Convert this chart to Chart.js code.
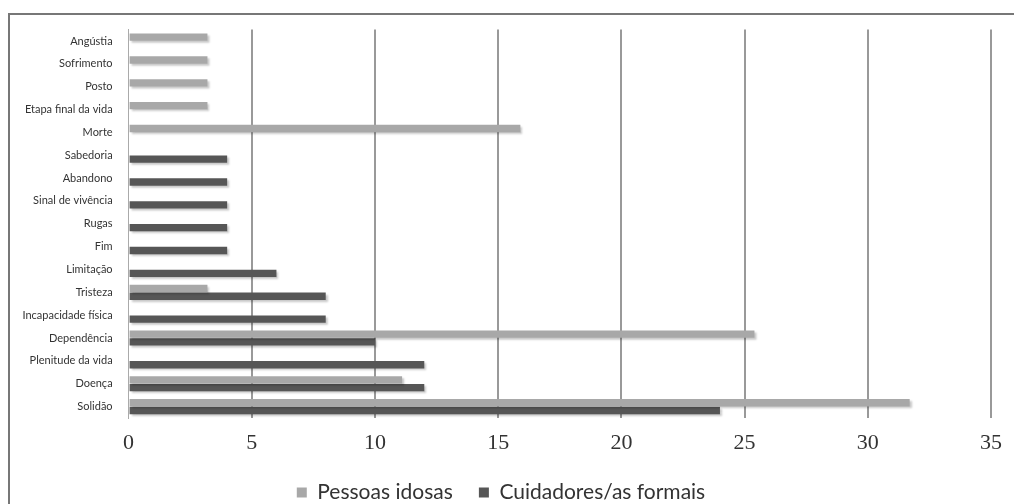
<!DOCTYPE html>
<html>
<head>
<meta charset="utf-8">
<script src="https://cdn.jsdelivr.net/npm/chart.js@4"></script>
<style>
  body { margin: 0; background: #fff; overflow: hidden; }
  #frame {
    position: absolute; left: 8px; top: 13px; width: 1006px; height: 491px;
    border-top: 2px solid #777; border-left: 2px solid #777; box-sizing: border-box;
  }
  #wrap { position: absolute; left: 0; top: 0; width: 1004px; height: 498px; }
</style>
</head>
<body>
<div id="frame"><div id="wrap"><canvas id="chart"></canvas></div></div>
<script>
const categories = [
  "Angústia", "Sofrimento", "Posto", "Etapa final da vida", "Morte",
  "Sabedoria", "Abandono", "Sinal de vivência", "Rugas", "Fim",
  "Limitação", "Tristeza", "Incapacidade física", "Dependência",
  "Plenitude da vida", "Doença", "Solidão"
];
const pessoasIdosas = [3.2, 3.2, 3.2, 3.2, 15.9, null, null, null, null, null, null, 3.2, null, 25.4, null, 11.1, 31.7];
const cuidadores = [null, null, null, null, null, 4, 4, 4, 4, 4, 6, 8, 8, 10, 12, 12, 24];
const xTicks = [0, 5, 10, 15, 20, 25, 30, 35];

// soft drop shadow under the bars, like the original
const barShadow = {
  id: "barShadow",
  beforeDatasetsDraw(chart) {
    const ctx = chart.ctx;
    ctx.save();
    ctx.shadowColor = "rgba(0,0,0,0.22)";
    ctx.shadowOffsetX = 2;
    ctx.shadowOffsetY = 2;
    ctx.shadowBlur = 2;
  },
  afterDatasetsDraw(chart) {
    chart.ctx.restore();
  }
};

new Chart(document.getElementById("chart").getContext("2d"), {
  type: "bar",
  data: {
    labels: categories,
    datasets: [
      {
        label: "Pessoas idosas",
        data: pessoasIdosas,
        backgroundColor: "#a8a8a8",
        categoryPercentage: 0.68,
        barPercentage: 0.95
      },
      {
        label: "Cuidadores/as formais",
        data: cuidadores,
        backgroundColor: "#565656",
        categoryPercentage: 0.68,
        barPercentage: 0.95
      }
    ]
  },
  plugins: [barShadow],
  options: {
    indexAxis: "y",
    responsive: true,
    maintainAspectRatio: false,
    animation: false,
    layout: { padding: { top: 9, right: 22, bottom: 0, left: 0 } },
    plugins: {
      tooltip: { enabled: false },
      legend: {
        position: "bottom",
        labels: {
          boxWidth: 10,
          boxHeight: 10,
          padding: 10,
          color: "#333",
          font: { family: "Lato", size: 21 },
          generateLabels: (chart) => Chart.defaults.plugins.legend.labels.generateLabels(chart)
            .map((l, i) => ({ ...l, text: i === 0 ? l.text + "   " : l.text }))
        }
      }
    },
    scales: {
      x: {
        min: 0,
        max: 35,
        afterBuildTicks: (axis) => { axis.ticks = xTicks.map(v => ({ value: v })); },
        afterFit: (axis) => { axis.height = 54; },
        border: { display: false },
        grid: {
          color: (c) => c.tick && c.tick.value === 0 ? "rgba(0,0,0,0)" : "#999",
          lineWidth: 2,
          drawTicks: false
        },
        ticks: {
          padding: 12,
          color: "#333",
          font: { family: "Liberation Serif", size: 22 }
        }
      },
      y: {
        afterFit: (axis) => { axis.width = 118.6; },
        border: { display: true, color: "#aaa", width: 1 },
        grid: { display: false },
        ticks: {
          padding: 8,
          color: "#333",
          font: { family: "Lato", size: 11 }
        }
      }
    }
  }
});
</script>
</body>
</html>
